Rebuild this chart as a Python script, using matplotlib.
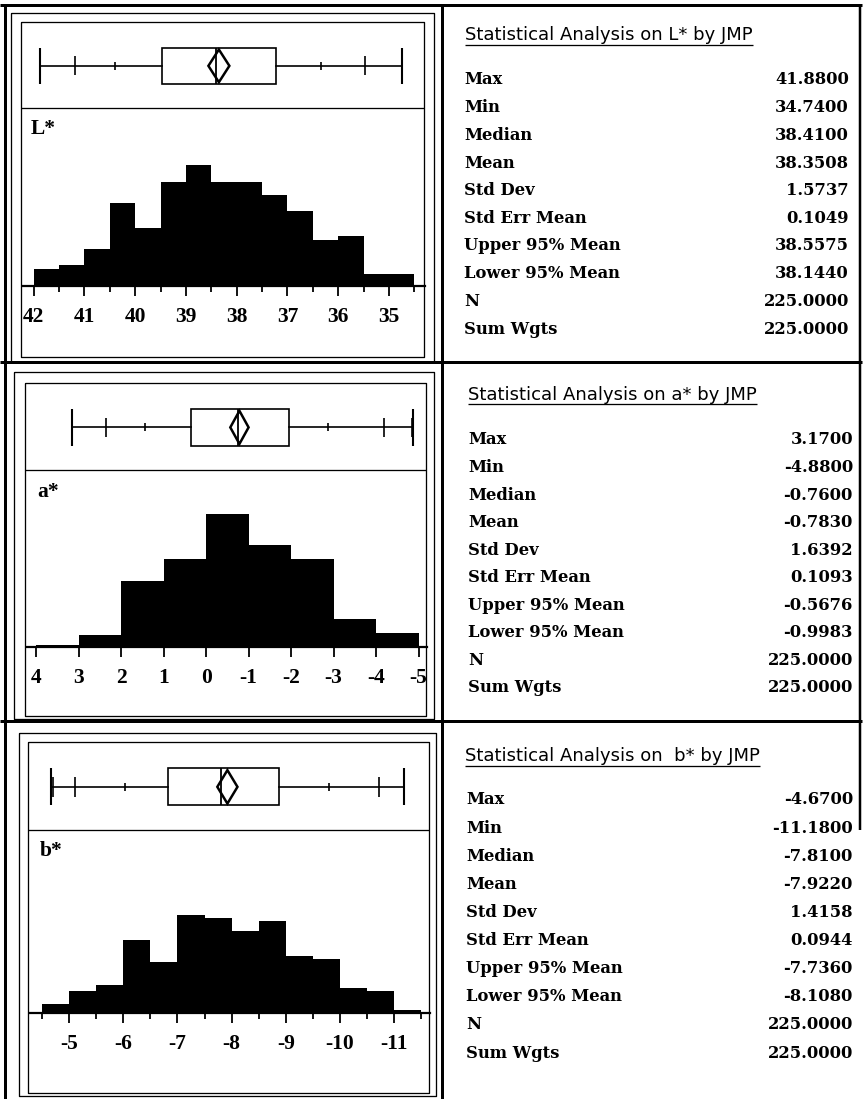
import matplotlib
matplotlib.use('Agg')
import matplotlib.pyplot as plt
from matplotlib.patches import Rectangle, Polygon
from matplotlib.ticker import MultipleLocator, FixedLocator

W, H, DPI = 868, 1099, 100

# ------------------------- data -------------------------
L_edges = [34.5, 35.0, 35.5, 36.0, 36.5, 37.0, 37.5, 38.0, 38.5, 39.0, 39.5,
           40.0, 40.5, 41.0, 41.5, 42.0]
L_counts = [3, 3, 12, 11, 18, 22, 25, 25, 29, 25, 14, 20, 9, 5, 4]

a_edges = [-5, -4, -3, -2, -1, 0, 1, 2, 3, 4]
a_counts = [6, 12, 37, 43, 56, 37, 28, 5, 1]

b_edges = [-11.5, -11.0, -10.5, -10.0, -9.5, -9.0, -8.5, -8.0, -7.5, -7.0,
           -6.5, -6.0, -5.5, -5.0, -4.5]
b_counts = [1, 7, 8, 17, 18, 29, 26, 30, 31, 16, 23, 9, 7, 3]

# box plot summaries: min, q1, median, q3, max
L_box = [34.74, 37.23, 38.41, 39.47, 41.88]
a_box = [-4.88, -1.96, -0.76, 0.36, 3.17]
b_box = [-11.18, -8.87, -7.81, -6.82, -4.67]

# mean, lower 95%, upper 95%
L_mean = [38.3508, 38.1440, 38.5575]
a_mean = [-0.7830, -0.9983, -0.5676]
b_mean = [-7.9220, -8.1080, -7.7360]

# quantile marks on the whiskers
L_q_outer = [35.48, 41.19]
L_q_inner = [36.33, 40.40]
a_q_outer = [-4.18, 2.35, -4.85]
a_q_inner = [-2.87, 1.43]
b_q_outer = [-10.72, -5.11, -4.70]
b_q_inner = [-9.80, -6.03]

L_ticks = [42, 41, 40, 39, 38, 37, 36, 35]
a_ticks = [4, 3, 2, 1, 0, -1, -2, -3, -4, -5]
b_ticks = [-5, -6, -7, -8, -9, -10, -11]

var_labels = ['L*', 'a*', 'b*']

stat_names = ['Max', 'Min', 'Median', 'Mean', 'Std Dev', 'Std Err Mean',
              'Upper 95% Mean', 'Lower 95% Mean', 'N', 'Sum Wgts']
L_stats = ['41.8800', '34.7400', '38.4100', '38.3508', '1.5737', '0.1049',
           '38.5575', '38.1440', '225.0000', '225.0000']
a_stats = ['3.1700', '-4.8800', '-0.7600', '-0.7830', '1.6392', '0.1093',
           '-0.5676', '-0.9983', '225.0000', '225.0000']
b_stats = ['-4.6700', '-11.1800', '-7.8100', '-7.9220', '1.4158', '0.0944',
           '-7.7360', '-8.1080', '225.0000', '225.0000']
titles = ['Statistical Analysis on L* by JMP',
          'Statistical Analysis on a* by JMP',
          'Statistical Analysis on  b* by JMP']

# ------------------------- layout -------------------------
fig = plt.figure(figsize=(W / DPI, H / DPI), dpi=DPI)
fig.patch.set_facecolor('white')

ov = fig.add_axes([0, 0, 1, 1], zorder=0)
ov.set_xlim(0, W)
ov.set_ylim(H, 0)
ov.axis('off')


def px_axes(x0, y0, x1, y1):
    a = fig.add_axes([x0 / W, 1 - y1 / H, (x1 - x0) / W, (y1 - y0) / H], zorder=2)
    a.patch.set_alpha(0)
    return a


def line(xs, ys, lw):
    ov.plot(xs, ys, color='black', lw=lw, solid_capstyle='butt')


def rect(x0, y0, x1, y1, lw):
    line([x0, x1, x1, x0, x0], [y0, y0, y1, y1, y0], lw)


PX = 72 / DPI  # points per pixel

# page frame
line([0, 862], [5, 5], 3 * PX)
line([5, 5], [4, H], 3 * PX)
line([442, 442], [4, H], 3 * PX)
line([0, 862], [362, 362], 3 * PX)
line([0, 862], [721, 721], 3 * PX)
line([860, 860], [4, 830], 2.5 * PX)

panels = [
    dict(outer=(11, 13, 434, 362), inner=(21, 22, 424, 357), sep=108, base=286,
         hx=(23, 425), xlim=(42.21, 34.29), ymax=42.8, minor=0.5,
         lab=(31, 129.5), edges=L_edges, counts=L_counts, box=L_box,
         mean=L_mean, qo=L_q_outer, qi=L_q_inner, ticks=L_ticks),
    dict(outer=(14, 372, 434, 719), inner=(25, 383, 426, 716), sep=470, base=647,
         hx=(27, 427), xlim=(4.22, -5.2), ymax=74.6, minor=None,
         lab=(37, 492), edges=a_edges, counts=a_counts, box=a_box,
         mean=a_mean, qo=a_q_outer, qi=a_q_inner, ticks=a_ticks),
    dict(outer=(19, 733, 436, 1096), inner=(28, 742, 429, 1093), sep=830, base=1013,
         hx=(30, 430), xlim=(-4.28, -11.66), ymax=57.8, minor=0.5,
         lab=(40, 851), edges=b_edges, counts=b_counts, box=b_box,
         mean=b_mean, qo=b_q_outer, qi=b_q_inner, ticks=b_ticks),
]

tick_font = dict(family=['Liberation Serif', 'DejaVu Serif'], weight='bold', size=15.5)

for p, lab in zip(panels, var_labels):
    rect(*p['outer'], 1.3 * PX)
    rect(*p['inner'], 1.3 * PX)
    ix0, iy0, ix1, iy1 = p['inner']
    line([ix0, ix1], [p['sep'], p['sep']], 1.3 * PX)
    ov.text(p['lab'][0], p['lab'][1], lab, ha='left', va='center', **tick_font)

    # box plot
    bx = px_axes(p['hx'][0], iy0, p['hx'][1], p['sep'])
    bx.set_xlim(*p['xlim'])
    bx.set_ylim(0, 1)
    bx.axis('off')
    mn, q1, md, q3, mx = p['box']
    yc, yb, yt = 0.49, 0.28, 0.70
    bx.plot([mn, q1], [yc, yc], color='black', lw=1.2)
    bx.plot([q3, mx], [yc, yc], color='black', lw=1.2)
    bx.vlines([mn, mx], yb, yt, color='black', lw=1.5)
    bx.vlines(p['qo'], 0.38, 0.60, color='black', lw=1.2)
    bx.vlines(p['qi'], 0.445, 0.535, color='black', lw=1.2)
    bx.add_patch(Rectangle((q1, yb), q3 - q1, yt - yb, facecolor='white',
                           edgecolor='black', lw=1.2))
    bx.vlines([md], yb, yt, color='black', lw=1.3)
    m, lo, hi = p['mean']
    bx.add_patch(Polygon([(lo, yc), (m, yt - 0.02), (hi, yc), (m, yb + 0.02)],
                         closed=True, fill=False, edgecolor='black', lw=1.8))

    # histogram
    hx = px_axes(p['hx'][0], p['sep'], p['hx'][1], p['base'])
    hx.stairs(p['counts'], p['edges'], fill=True, color='black')
    hx.set_xlim(*p['xlim'])
    hx.set_ylim(0, p['ymax'])
    for s in ['top', 'left', 'right']:
        hx.spines[s].set_visible(False)
    hx.spines['bottom'].set_linewidth(1.6)
    hx.set_yticks([])
    hx.xaxis.set_major_locator(FixedLocator(p['ticks']))
    if p['minor']:
        hx.xaxis.set_minor_locator(MultipleLocator(p['minor']))
    hx.tick_params(axis='x', which='major', direction='out', length=10 * PX,
                   width=1.3, pad=8)
    hx.tick_params(axis='x', which='minor', direction='out', length=6 * PX,
                   width=1.3)
    hx.set_xticklabels([str(t) for t in p['ticks']])
    for tl in hx.get_xticklabels():
        tl.set_fontfamily(tick_font['family'])
        tl.set_fontweight('bold')
        tl.set_fontsize(tick_font['size'])

# statistics tables
tables = [
    dict(title_xy=(465, 40.5), ul=44.5, lx=464, rx=849, rows=(80, 329), stats=L_stats),
    dict(title_xy=(468, 400), ul=404, lx=468, rx=853, rows=(440, 688), stats=a_stats),
    dict(title_xy=(465, 761), ul=765.5, lx=466, rx=853, rows=(800, 1053), stats=b_stats),
]
row_font = dict(family=['DejaVu Serif'], weight='bold', size=11.8)
title_objs = []
for t, title in zip(tables, titles):
    tt = ov.text(t['title_xy'][0], t['title_xy'][1], title, ha='left', va='baseline',
                 family=['DejaVu Sans'], size=13.0)
    title_objs.append((tt, t['ul']))
    y0, y1 = t['rows']
    step = (y1 - y0) / (len(stat_names) - 1)
    for i, (name, val) in enumerate(zip(stat_names, t['stats'])):
        y = y0 + i * step
        ov.text(t['lx'], y, name, ha='left', va='center', **row_font)
        ov.text(t['rx'], y, val, ha='right', va='center', **row_font)

fig.canvas.draw()
inv = ov.transData.inverted()
for tt, uy in title_objs:
    bb = tt.get_window_extent()
    xa = inv.transform((bb.x0, bb.y0))[0]
    xb = inv.transform((bb.x1, bb.y0))[0]
    line([xa, xb], [uy, uy], 1.3 * PX)

fig.savefig('out.png', dpi=DPI, facecolor='white')
